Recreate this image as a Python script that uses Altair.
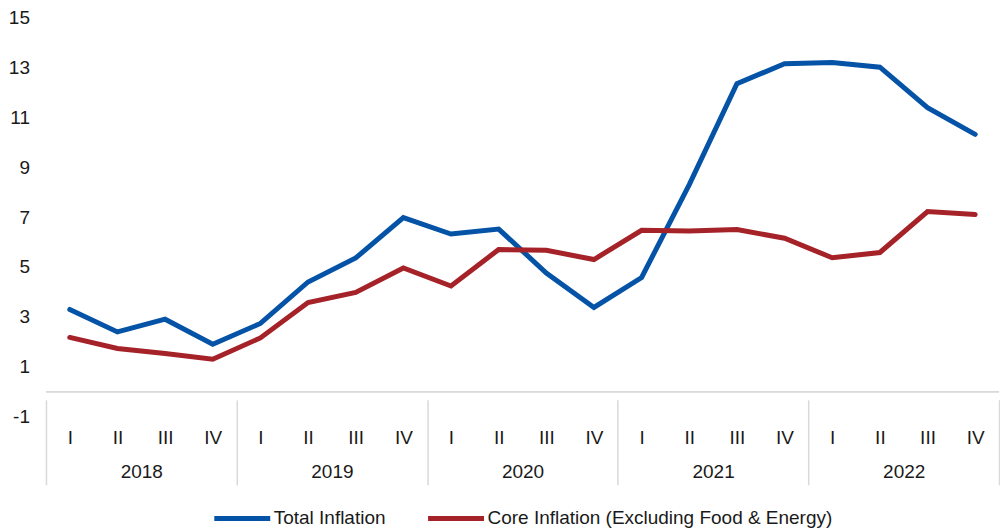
import altair as alt
import pandas as pd

years = ["2018", "2019", "2020", "2021", "2022"]
quarters = ["I", "II", "III", "IV"]
total_inflation = [3.30, 2.40, 2.91, 1.91, 2.74, 4.40, 5.36, 6.98, 6.32, 6.52,
                   4.76, 3.38, 4.58, 8.30, 12.34, 13.14, 13.19, 13.00, 11.38, 10.31]
core_inflation = [2.18, 1.74, 1.54, 1.31, 2.16, 3.58, 3.98, 4.96, 4.24, 5.70,
                  5.67, 5.30, 6.47, 6.44, 6.50, 6.15, 5.37, 5.58, 7.22, 7.10]
series_names = ["Total Inflation", "Core Inflation (Excluding Food & Energy)"]
colors = ["#0453A6", "#A52228"]
y_ticks = [-1, 1, 3, 5, 7, 9, 11, 13, 15]

FONT = "Liberation Sans"
FS = 19
TXT = "#1a1a1a"
GRAY = "#d9d9d9"

n = len(years) * len(quarters)
rows = []
for i in range(n):
    rows.append({"t": i, "series": series_names[0], "value": total_inflation[i]})
    rows.append({"t": i, "series": series_names[1], "value": core_inflation[i]})
df = pd.DataFrame(rows)

xscale = alt.Scale(domain=[-0.5, n - 0.5], nice=False, zero=False)
yscale = alt.Scale(domain=[-1, 15], nice=False, zero=False)

q_list = "[" + ",".join("'%s'" % q for q in quarters) + "]"
y_list = "[" + ",".join("'%s'" % y for y in years) + "]"

quarter_axis = alt.Axis(orient="bottom", values=list(range(n)),
                        labelExpr=q_list + "[datum.value % 4]",
                        ticks=False, domain=False, grid=False, labelPadding=12,
                        labelFlush=False, labelOverlap=False, title=None)
year_axis = alt.Axis(orient="bottom", values=[4 * k + 1.5 for k in range(len(years))],
                     labelExpr=y_list + "[floor(datum.value / 4)]",
                     ticks=False, domain=False, grid=False, labelPadding=46,
                     labelFlush=False, labelOverlap=False, title=None)
sep_axis = alt.Axis(orient="bottom", values=[4 * k - 0.5 for k in range(len(years) + 1)],
                    labels=False, ticks=True, tickSize=85, tickColor=GRAY,
                    tickWidth=1.5, domain=False, grid=False, offset=-17, title=None)
y_axis = alt.Axis(values=y_ticks, labelExpr="'' + datum.value", ticks=False,
                  domain=False, grid=False, labelPadding=16.5,
                  minExtent=38, maxExtent=38, title=None)

lines = alt.Chart(df).mark_line(strokeWidth=5, strokeCap="round").encode(
    x=alt.X("t:Q", scale=xscale, axis=quarter_axis),
    y=alt.Y("value:Q", scale=yscale, axis=y_axis),
    color=alt.Color("series:N", scale=alt.Scale(domain=series_names, range=colors),
                    legend=alt.Legend(orient="none", legendX=186, legendY=491,
                                      direction="horizontal", title=None,
                                      symbolType="M-3.5,0H3.5", symbolStrokeWidth=5,
                                      symbolSize=256, labelFontSize=FS, labelFont=FONT,
                                      labelColor=TXT, labelOffset=21, columnPadding=32,
                                      labelLimit=600)),
    detail="series:N",
)

zero_df = pd.DataFrame({"x0": [-0.5], "x1": [n - 0.5], "v": [0]})
zero = alt.Chart(zero_df).mark_rule(color=GRAY, strokeWidth=2).encode(
    x=alt.X("x0:Q", scale=xscale, axis=year_axis),
    x2="x1:Q",
    y=alt.Y("v:Q", scale=yscale, axis=y_axis),
)

sep_df = pd.DataFrame({"b": [4 * k - 0.5 for k in range(len(years) + 1)]})
seps = alt.Chart(sep_df).mark_rule(opacity=0).encode(
    x=alt.X("b:Q", scale=xscale, axis=sep_axis),
)

chart = alt.layer(zero, seps, lines).resolve_axis(x="independent").properties(
    width=954, height=400, padding={"left": 0, "top": 0, "right": 0, "bottom": 0}
).configure_view(stroke=None).configure_axis(
    labelFont=FONT, labelFontSize=FS, labelColor=TXT
)

chart.save("out.html", embed_options={"renderer": "svg", "actions": False})
